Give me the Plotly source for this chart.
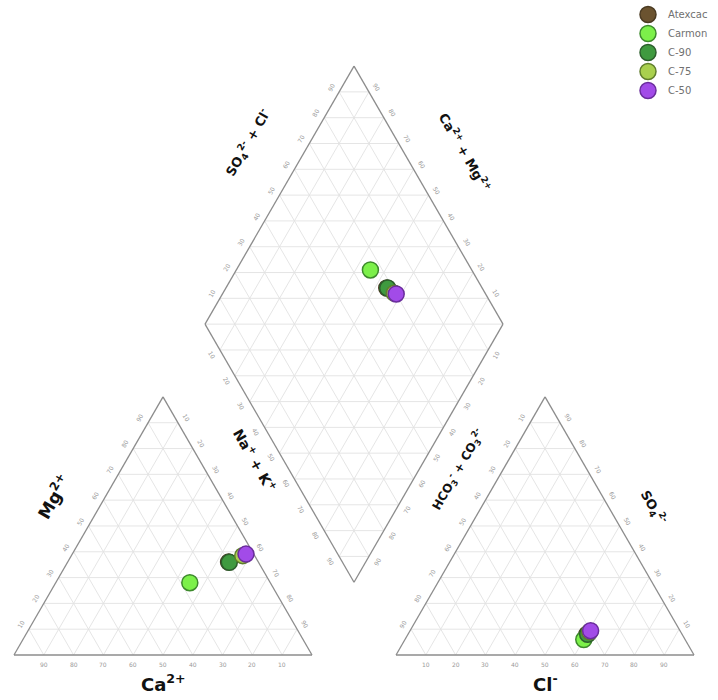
import numpy as np
import plotly.graph_objects as go

# ---- sample data (percent of meq/L) ----
samples = ["Atexcac", "Carmon", "C-90", "C-75", "C-50"]
ca = [10.0, 27.0, 9.8, 4.0, 2.6]
mg = [36.0, 28.0, 35.9, 38.5, 39.1]
na_k = [54.0, 45.0, 54.3, 57.5, 58.3]
hco3 = [32.0, 34.0, 31.7, 30.5, 30.0]
so4 = [8.0, 6.0, 8.0, 9.0, 9.4]
cl = [60.0, 60.0, 60.3, 60.5, 60.6]

fill_colors = ["#6b5330", "#7cf04a", "#3f9a3f", "#a9d04e", "#a24be8"]
edge_colors = ["#4a3a22", "#3d8a2c", "#2c5e2c", "#5f7d2c", "#6a2d9c"]

grid_values = list(range(10, 100, 10))

# ---- geometry (side = 100 units) ----
S3 = np.sqrt(3) / 2
GAP = 28.2            # spacing between the two triangles
OFF = 100 + GAP       # x origin of the anion triangle
PX = 2.98             # pixels per unit
X0_PX, Y0_PX = 14, 655
W, H = 718, 700


def cation_xy(na, m):
    return na + m / 2, m * S3


def anion_xy(c, s):
    return OFF + c + s / 2, s * S3


def diamond_xy(nak, clso4):
    t = OFF + clso4 - nak
    return nak + t / 2, t * S3


def px(x, y):
    """layout pixel -> data units"""
    return (x - X0_PX) / PX, (Y0_PX - y) / PX


fig = go.Figure()


def add_lines(segs, color, width):
    xs, ys = [], []
    for (xa, ya), (xb, yb) in segs:
        xs += [xa, xb, None]
        ys += [ya, yb, None]
    fig.add_trace(go.Scatter(x=xs, y=ys, mode="lines", line=dict(color=color, width=width),
                             hoverinfo="skip", showlegend=False))


# ---- grid ----
grid = []
for p in grid_values:
    # cation triangle
    grid.append((cation_xy(0, p), cation_xy(100 - p, p)))
    grid.append((cation_xy(p, 0), cation_xy(p, 100 - p)))
    grid.append((cation_xy(100 - p, 0), cation_xy(0, 100 - p)))
    # anion triangle
    grid.append((anion_xy(0, p), anion_xy(100 - p, p)))
    grid.append((anion_xy(p, 0), anion_xy(p, 100 - p)))
    grid.append((anion_xy(100 - p, 0), anion_xy(0, 100 - p)))
    # diamond
    grid.append((diamond_xy(p, 0), diamond_xy(p, 100)))
    grid.append((diamond_xy(0, p), diamond_xy(100, p)))
for d in range(-90, 100, 10):
    if d <= 0:
        grid.append((diamond_xy(-d, 0), diamond_xy(100, 100 + d)))
    else:
        grid.append((diamond_xy(0, d), diamond_xy(100 - d, 100)))
add_lines(grid, "#e2e2e2", 0.9)

# ---- outlines ----
outline = [
    (cation_xy(0, 0), cation_xy(100, 0)), (cation_xy(100, 0), cation_xy(0, 100)),
    (cation_xy(0, 100), cation_xy(0, 0)),
    (anion_xy(0, 0), anion_xy(100, 0)), (anion_xy(100, 0), anion_xy(0, 100)),
    (anion_xy(0, 100), anion_xy(0, 0)),
    (diamond_xy(0, 0), diamond_xy(0, 100)), (diamond_xy(0, 100), diamond_xy(100, 100)),
    (diamond_xy(100, 100), diamond_xy(100, 0)), (diamond_xy(100, 0), diamond_xy(0, 0)),
]
add_lines(outline, "#8c8c8c", 1.3)

# ---- samples ----
for i, name in enumerate(samples):
    pts = [cation_xy(na_k[i], mg[i]), anion_xy(cl[i], so4[i]),
           diamond_xy(na_k[i], so4[i] + cl[i])]
    fig.add_trace(go.Scatter(
        x=[p[0] for p in pts], y=[p[1] for p in pts], mode="markers", name=name,
        marker=dict(size=16, color=fill_colors[i], line=dict(color=edge_colors[i], width=1.5)),
    ))

# ---- tick labels ----
annotations = []
TICK_FONT = dict(family="DejaVu Sans", size=6, color="#9a9a9a")
OUT = 3.2


def tick(xy, normal, text, angle):
    annotations.append(dict(x=xy[0] + normal[0] * OUT, y=xy[1] + normal[1] * OUT, text=text,
                            showarrow=False, textangle=angle, font=TICK_FONT,
                            xref="x", yref="y"))


for p in grid_values:
    tick(cation_xy(p, 0), (0, -1), str(100 - p), 0)
    tick(cation_xy(0, p), (-S3, 0.5), str(p), -60)
    tick(cation_xy(100 - p, p), (S3, 0.5), str(100 - p), 60)
    tick(anion_xy(p, 0), (0, -1), str(p), 0)
    tick(anion_xy(0, p), (-S3, 0.5), str(100 - p), -60)
    tick(anion_xy(100 - p, p), (S3, 0.5), str(p), 60)
    tick(diamond_xy(0, p), (-S3, 0.5), str(p), -60)
    tick(diamond_xy(p, 100), (S3, 0.5), str(100 - p), 60)
    tick(diamond_xy(p, 0), (-S3, -0.5), str(p), 60)
    tick(diamond_xy(100, p), (S3, -0.5), str(100 - p), -60)

# ---- axis titles ----
titles = [
    ("<b>Ca<sup>2+</sup></b>", (163, 683), 0, 18),
    ("<b>Cl<sup>-</sup></b>", (545, 683), 0, 18),
    ("<b>Mg<sup>2+</sup></b>", (53, 497), -60, 17),
    ("<b>Na<sup>+</sup> + K<sup>+</sup></b>", (255, 460), 60, 14),
    ("<b>HCO<sub>3</sub><sup>-</sup> + CO<sub>3</sub><sup>2-</sup></b>", (458, 470), -60, 12),
    ("<b>SO<sub>4</sub><sup>2-</sup></b>", (653, 507), 60, 13),
    ("<b>SO<sub>4</sub><sup>2-</sup> + Cl<sup>-</sup></b>", (248, 143), -60, 13),
    ("<b>Ca<sup>2+</sup> + Mg<sup>2+</sup></b>", (465, 152), 60, 13),
]
for text, pos, ang, size in titles:
    x, y = px(*pos)
    annotations.append(dict(x=x, y=y, text=text, showarrow=False, textangle=ang,
                            font=dict(family="DejaVu Sans", size=size, color="#111111"),
                            xref="x", yref="y"))

xa, xb = px(0, 0)[0], px(W, 0)[0]
yb, ya = px(0, 0)[1], px(0, H)[1]

fig.update_layout(
    width=W, height=H,
    margin=dict(l=0, r=0, t=0, b=0),
    paper_bgcolor="white", plot_bgcolor="white",
    xaxis=dict(range=[xa, xb], visible=False, fixedrange=True),
    yaxis=dict(range=[ya, yb], visible=False, fixedrange=True),
    annotations=annotations,
    legend=dict(x=628 / W, y=1.0, xanchor="left", yanchor="top",
                font=dict(family="DejaVu Sans", size=10, color="#707070"),
                bgcolor="rgba(0,0,0,0)", tracegroupgap=0),
    showlegend=True,
)

fig.write_html("out.html")
